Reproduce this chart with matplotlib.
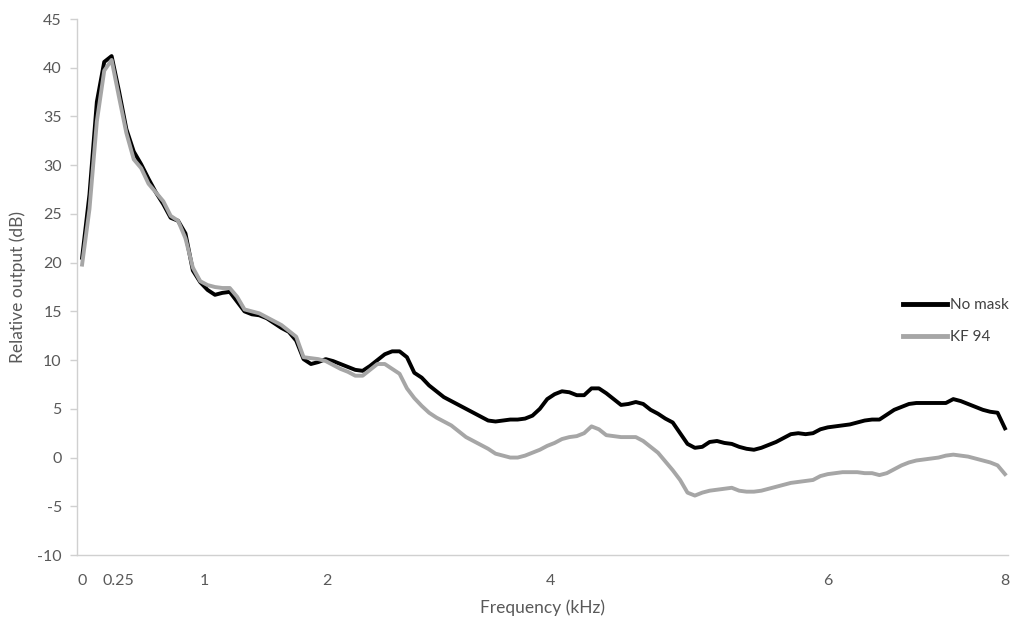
import matplotlib
matplotlib.use("Agg")
import matplotlib.pyplot as plt

# relative output (dB) per frequency bin
no_mask = [20.5, 27.0, 36.5, 40.6, 41.2, 37.6, 33.7, 31.4, 30.1, 28.6,
           27.2, 26.0, 24.6, 24.3, 23.0, 19.2, 18.0, 17.2, 16.7, 16.9,
           17.0, 16.0, 15.0, 14.7, 14.6, 14.3, 13.8, 13.3, 12.9, 12.0,
           10.1, 9.6, 9.8, 10.1, 9.9, 9.6, 9.3, 9.0, 8.9, 9.4,
           10.0, 10.6, 10.9, 10.9, 10.3, 8.7, 8.2, 7.4, 6.8, 6.2,
           5.8, 5.4, 5.0, 4.6, 4.2, 3.8, 3.7, 3.8, 3.9, 3.9,
           4.0, 4.3, 5.0, 6.0, 6.5, 6.8, 6.7, 6.4, 6.4, 7.1,
           7.1, 6.6, 6.0, 5.4, 5.5, 5.7, 5.5, 4.9, 4.5, 4.0,
           3.6, 2.5, 1.4, 1.0, 1.1, 1.6, 1.7, 1.5, 1.4, 1.1,
           0.9, 0.8, 1.0, 1.3, 1.6, 2.0, 2.4, 2.5, 2.4, 2.5,
           2.9, 3.1, 3.2, 3.3, 3.4, 3.6, 3.8, 3.9, 3.9, 4.4,
           4.9, 5.2, 5.5, 5.6, 5.6, 5.6, 5.6, 5.6, 6.0, 5.8,
           5.5, 5.2, 4.9, 4.7, 4.6, 3.0]

kf94 = [19.8, 25.5, 34.5, 39.7, 40.8, 37.0, 33.3, 30.6, 29.7, 28.1,
        27.2, 26.3, 24.8, 24.3, 22.5, 19.5, 18.1, 17.7, 17.5, 17.4,
        17.4, 16.5, 15.2, 15.0, 14.8, 14.4, 14.0, 13.6, 13.0, 12.4,
        10.3, 10.2, 10.1, 9.9, 9.5, 9.1, 8.8, 8.4, 8.4, 9.0,
        9.6, 9.6, 9.1, 8.6, 7.1, 6.1, 5.3, 4.6, 4.1, 3.7,
        3.3, 2.7, 2.1, 1.7, 1.3, 0.9, 0.4, 0.2, 0.0, 0.0,
        0.2, 0.5, 0.8, 1.2, 1.5, 1.9, 2.1, 2.2, 2.5, 3.2,
        2.9, 2.3, 2.2, 2.1, 2.1, 2.1, 1.7, 1.1, 0.5, -0.4,
        -1.3, -2.3, -3.6, -3.9, -3.6, -3.4, -3.3, -3.2, -3.1, -3.4,
        -3.5, -3.5, -3.4, -3.2, -3.0, -2.8, -2.6, -2.5, -2.4, -2.3,
        -1.9, -1.7, -1.6, -1.5, -1.5, -1.5, -1.6, -1.6, -1.8, -1.6,
        -1.2, -0.8, -0.5, -0.3, -0.2, -0.1, 0.0, 0.2, 0.3, 0.2,
        0.1, -0.1, -0.3, -0.5, -0.8, -1.7]

# labelled categories on the x axis (bin index -> label)
tick_bins = [0, 4.9, 16.6, 33.2, 63.5, 101, 125]
tick_labels = ["0", "0.25", "1", "2", "4", "6", "8"]

plt.rcParams["font.family"] = ["Lato", "DejaVu Sans"]
plt.rcParams["axes.unicode_minus"] = False
txt = "#595959"
axis_col = "#d0d0d0"

fig = plt.figure(figsize=(10.14, 6.26), dpi=100)
ax = fig.add_axes([0.076, 0.1134, 0.918, 0.8562])

bins = range(len(no_mask))
ax.plot(bins, no_mask, color="black", lw=2.8, label="No mask", solid_joinstyle="round")
ax.plot(bins, kf94, color="#a6a6a6", lw=2.8, label="KF 94", solid_joinstyle="round")

ax.set_xlim(-0.68, 125.4)
ax.set_ylim(-10, 45)
ax.set_yticks(range(-10, 46, 5))
ax.set_xticks(tick_bins)
ax.set_xticklabels(tick_labels)

for s in ["top", "right"]:
    ax.spines[s].set_visible(False)
for s in ["left", "bottom"]:
    ax.spines[s].set_color(axis_col)
    ax.spines[s].set_linewidth(1.0)

ax.tick_params(axis="y", colors=axis_col, length=5, width=1, labelcolor=txt, labelsize=11.5, pad=6)
ax.tick_params(axis="x", length=0, labelcolor=txt, labelsize=11.5, pad=14)

ax.set_xlabel("Frequency (kHz)", color=txt, fontsize=12.5, labelpad=8)
ax.set_ylabel("Relative output (dB)", color=txt, fontsize=12.5, labelpad=8)

leg = ax.legend(loc="upper left", bbox_to_anchor=(0.872, 0.505), frameon=False,
                handlelength=2.9, handletextpad=0.2, labelspacing=1.2, fontsize=11)
for t in leg.get_texts():
    t.set_color("#404040")
for h in leg.get_lines():
    h.set_linewidth(3.5)

fig.savefig("out.png", dpi=100)
